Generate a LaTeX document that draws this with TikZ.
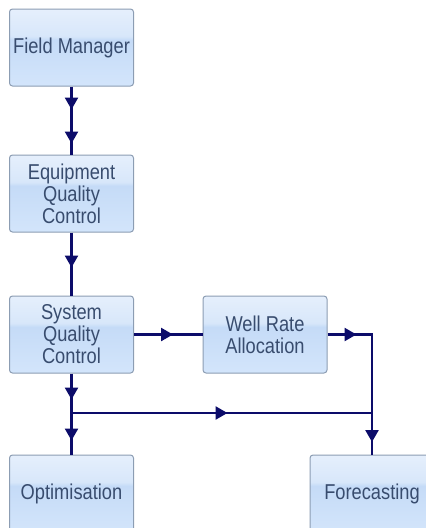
\documentclass[tikz,border=0pt]{standalone}
\usepackage{fontspec}
\setmainfont{Liberation Sans}[FakeStretch=0.85]
\usetikzlibrary{arrows.meta,decorations.markings}

\definecolor{boxedge}{HTML}{8C9DB3}
\definecolor{boxtext}{HTML}{384C6E}
\definecolor{flow}{HTML}{0C0C6A}
\definecolor{bodylow}{HTML}{D3E5FB}
\definecolor{bodyhigh}{HTML}{C5DBF7}
\definecolor{glosslow}{HTML}{D8E7FA}
\definecolor{glosshigh}{HTML}{E5EFFC}

% glossy fill of the stage boxes: the node spans 25bp..75bp of the shading
\pgfdeclareverticalshading{stagefill}{100bp}{%
  color(0bp)=(bodylow);
  color(25bp)=(bodylow);
  color(55bp)=(bodyhigh);
  color(57.5bp)=(glosslow);
  color(75bp)=(glosshigh);
  color(100bp)=(glosshigh)}

\tikzset{
  stage/.style={
    draw=boxedge, line width=1pt, rounded corners=3pt,
    shading=stagefill,
    minimum width=124pt, minimum height=77pt, inner sep=0pt,
    align=center, text=boxtext,
    font=\fontsize{21.5}{22}\selectfont
  },
  flowline/.style={draw=flow, line width=2.5pt},
  tipat/.style={postaction={decorate, decoration={markings,
      mark=at position #1 with {\arrow{Triangle[length=12pt, width=13pt, color=flow]}}}}},
}

\begin{document}
\begin{tikzpicture}[x=1pt, y=-1pt]
  \useasboundingbox (0,0) rectangle (426,528);

  % process stages
  \node[stage] (fm)  at (71.5, 47.5)  {Field Manager};
  \node[stage] (eqc) at (71.5, 193.5) {Equipment\\Quality\\Control};
  \node[stage] (sqc) at (71.5, 334.5) {System\\Quality\\Control};
  \node[stage] (wra) at (265, 334.5)  {Well Rate\\Allocation};
  \node[stage] (opt) at (71.5, 493.5) {Optimisation};
  \node[stage] (fc)  at (372, 493.5)  {Forecasting};

  % routing points
  \coordinate (split) at (sqc.south |- 0,413);
  \coordinate (bend)  at (fc.north |- wra.east);
  \coordinate (merge) at (fc.north |- 0,413);

  % connectors
  \draw[flowline, tipat=23pt, tipat=57pt] (fm.south) -- (eqc.north);
  \draw[flowline, tipat=35pt] (eqc.south) -- (sqc.north);
  \draw[flowline, tipat=39pt] (sqc.east) -- (wra.west);
  \draw[flowline, tipat=26pt, tipat=67pt] (sqc.south) -- (opt.north);
  \draw[flowline, tipat=156pt] (split) -- (merge);
  \draw[flowline, tipat=29pt, tipat=152pt] (wra.east) -- (bend) -- (fc.north);
\end{tikzpicture}
\end{document}
